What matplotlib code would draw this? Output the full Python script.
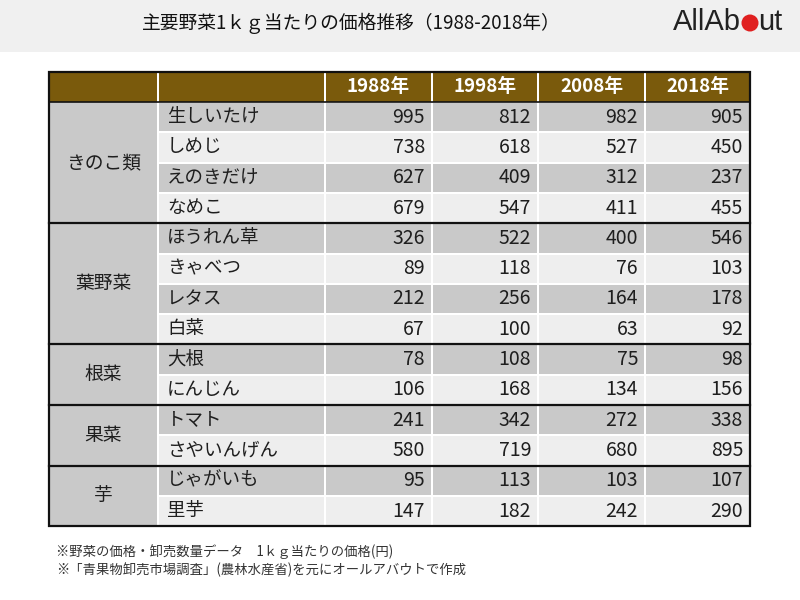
"""Price table of main vegetables per 1kg, 1988-2018."""
import matplotlib
matplotlib.use("Agg")
import matplotlib.pyplot as plt
from matplotlib.patches import Rectangle, Circle

plt.rcParams["font.family"] = ["Noto Sans CJK JP", "DejaVu Sans"]

title = "主要野菜1ｋｇ当たりの価格推移（1988-2018年）"
years = ["1988年", "1998年", "2008年", "2018年"]
groups = ["きのこ類", "葉野菜", "根菜", "果菜", "芋"]
group_sizes = [4, 4, 2, 2, 2]
names = ["生しいたけ", "しめじ", "えのきだけ", "なめこ",
         "ほうれん草", "きゃべつ", "レタス", "白菜",
         "大根", "にんじん",
         "トマト", "さやいんげん",
         "じゃがいも", "里芋"]
v1988 = [995, 738, 627, 679, 326, 89, 212, 67, 78, 106, 241, 580, 95, 147]
v1998 = [812, 618, 409, 547, 522, 118, 256, 100, 108, 168, 342, 719, 113, 182]
v2008 = [982, 527, 312, 411, 400, 76, 164, 63, 75, 134, 272, 680, 103, 242]
v2018 = [905, 450, 237, 455, 546, 103, 178, 92, 98, 156, 338, 895, 107, 290]
notes = ["※野菜の価格・卸売数量データ　1ｋｇ当たりの価格(円)",
         "※「青果物卸売市場調査」(農林水産省)を元にオールアバウトで作成"]

# layout (pixels)
col_edges = [49, 158, 325, 432, 538, 645, 750]
top, head_h, row_h = 72, 30, 30.3
brown, dark, light = "#7a5a0c", "#c9c9c9", "#eeeeee"
txt = "#1e1e1e"

fig = plt.figure(figsize=(8, 6), dpi=100)
ax = fig.add_axes([0, 0, 1, 1])
ax.set_xlim(0, 800)
ax.set_ylim(600, 0)
ax.axis("off")

# header band
ax.add_patch(Rectangle((0, 0), 800, 52, color="#f0f0f0", lw=0))
ax.text(351, 23, title, ha="center", va="center", fontsize=13.5,
        color="#111111")
logo_font = ["Liberation Sans Narrow", "Liberation Sans", "DejaVu Sans"]
ax.text(741, 22, "AllAb", ha="right", va="center", fontsize=21,
        family=logo_font, color="#222222")
ax.add_patch(Circle((750, 23), 8.5, color="#e02020", lw=0))
ax.text(758, 22, "ut", ha="left", va="center", fontsize=21,
        family=logo_font, color="#222222")

g = 1.0  # half-width of the white gap between cells

# header row
for c in range(len(col_edges) - 1):
    x0, x1 = col_edges[c], col_edges[c + 1]
    ax.add_patch(Rectangle((x0 + g, top), x1 - x0 - 2 * g, head_h,
                           color=brown, lw=0))
for c, y in enumerate(years):
    xc = (col_edges[c + 2] + col_edges[c + 3]) / 2
    ax.text(xc, top + head_h / 2, y, ha="center", va="center",
            fontsize=13.5, color="white", fontweight="bold")

# body
y0 = top + head_h
values = list(zip(v1988, v1998, v2008, v2018))
for i, name in enumerate(names):
    ry = y0 + i * row_h
    fc = dark if i % 2 == 0 else light
    for c in range(1, len(col_edges) - 1):
        x0, x1 = col_edges[c], col_edges[c + 1]
        ax.add_patch(Rectangle((x0 + g, ry + g), x1 - x0 - 2 * g,
                               row_h - 2 * g, color=fc, lw=0))
    ax.text(col_edges[1] + 9, ry + row_h / 2, name, ha="left",
            va="center", fontsize=13.3, color=txt)
    for c, v in enumerate(values[i]):
        ax.text(col_edges[c + 3] - 7, ry + row_h / 2, f"{v}", ha="right",
                va="center", fontsize=14, color=txt)

start = 0
for grp, n in zip(groups, group_sizes):
    gy = y0 + start * row_h
    ax.add_patch(Rectangle((col_edges[0], gy), col_edges[1] - col_edges[0] - g,
                           n * row_h, color=dark, lw=0))
    ax.text((col_edges[0] + col_edges[1]) / 2, gy + n * row_h / 2, grp,
            ha="center", va="center", fontsize=13.5, color=txt)
    if start > 0:
        ax.plot([col_edges[0], col_edges[-1]], [gy, gy], color="#111111", lw=1.6)
    start += n

bottom = y0 + len(names) * row_h
ax.plot([col_edges[0], col_edges[-1]], [y0, y0], color="#111111", lw=1.2)
ax.add_patch(Rectangle((col_edges[0], top), col_edges[-1] - col_edges[0],
                       bottom - top, fill=False, ec="#111111", lw=1.6))

# notes
for k, note in enumerate(notes):
    ax.text(56, 552 + k * 18, note, ha="left", va="center", fontsize=9.6,
            color="#333333")

fig.savefig("out.png", dpi=100)
plt.close(fig)
